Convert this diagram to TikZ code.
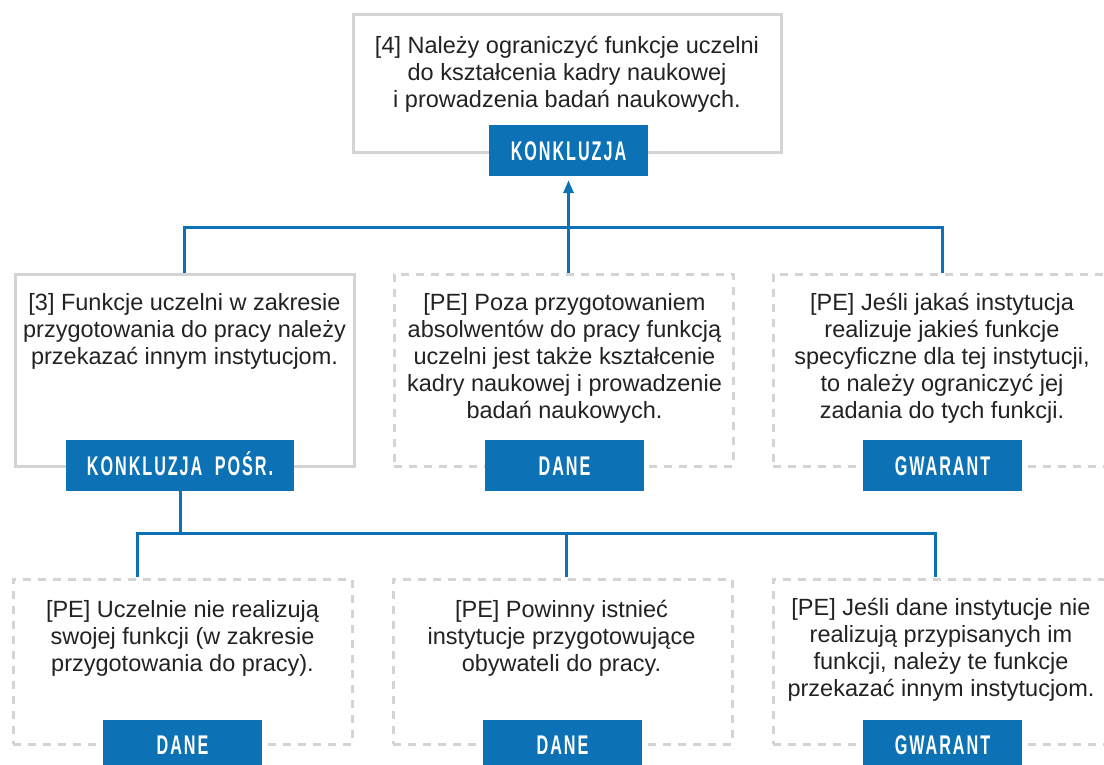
\documentclass[tikz,border=0pt]{standalone}
\usepackage{fontspec}
\usepackage{graphicx}
\setmainfont{Liberation Sans}
\newfontfamily\lblfont[LetterSpace=12]{Liberation Sans}
\usetikzlibrary{arrows.meta}
\definecolor{brandblue}{HTML}{0D71B6}
\definecolor{framegray}{HTML}{D4D4D4}
\definecolor{inktext}{HTML}{222222}
\newcommand{\tagtext}[1]{\scalebox{0.6}[1]{#1}}

\begin{document}
\begin{tikzpicture}[x=1pt,y=-1pt,
  framebox/.style={draw=framegray, line width=3pt, minimum width=339pt, minimum height=192pt, inner sep=0pt},
  dashbox/.style={framebox, dash pattern=on 8pt off 7pt},
  bodytext/.style={anchor=north, align=center, inner sep=0pt, text=inktext, font=\fontsize{23.5}{27}\selectfont},
  tag/.style={fill=brandblue, text=white, minimum width=159pt, minimum height=51pt, inner sep=0pt,
    text height=19.3pt, text depth=0pt, font=\lblfont\bfseries\fontsize{27}{31}\selectfont},
  conn/.style={draw=brandblue, line width=3pt},
]
\useasboundingbox (0,0) rectangle (1104,764);
\clip (0,0) rectangle (1104,764);

% frames
\node[framebox, minimum width=428pt, minimum height=138pt] (b4) at (567,83) {};
\node[framebox] (b3) at (184.5,370) {};
\node[dashbox] (p1) at (563.5,370) {};
\node[dashbox] (g1) at (942.5,370) {};
\node[dashbox, minimum height=165pt] (d1) at (182.5,661.5) {};
\node[dashbox, minimum height=165pt] (d2) at (562.5,661.5) {};
\node[dashbox, minimum height=165pt] (g2) at (942.5,661.5) {};

% statements
\node[bodytext] (t4) at (567,34.1) {\strut[4] Należy ograniczyć funkcje uczelni\\do kształcenia kadry naukowej\\i prowadzenia badań naukowych.};
\node[bodytext] (t3) at (184.5,291.1) {\strut[3] Funkcje uczelni w zakresie\\przygotowania do pracy należy\\przekazać innym instytucjom.};
\node[bodytext] (tp1) at (564.5,291.1) {\strut[PE] Poza przygotowaniem\\absolwentów do pracy funkcją\\uczelni jest także kształcenie\\kadry naukowej i prowadzenie\\badań naukowych.};
\node[bodytext] (tg1) at (942,291.1) {\strut[PE] Jeśli jakaś instytucja\\realizuje jakieś funkcje\\specyficzne dla tej instytucji,\\to należy ograniczyć jej\\zadania do tych funkcji.};
\node[bodytext] (td1) at (182.5,598.1) {\strut[PE] Uczelnie nie realizują\\swojej funkcji (w zakresie\\przygotowania do pracy).};
\node[bodytext] (td2) at (561.5,598.1) {\strut[PE] Powinny istnieć\\instytucje przygotowujące\\obywateli do pracy.};
\node[bodytext] (tg2) at (941,596.1) {\strut[PE] Jeśli dane instytucje nie\\realizują przypisanych im\\funkcji, należy te funkcje\\przekazać innym instytucjom.};

% bus levels and drop points
\coordinate (bus1) at (0,227);
\coordinate (bus2) at (0,533);
\coordinate (drop1) at (137,577);
\coordinate (drop2) at (566,577);
\coordinate (drop3) at (935,577);

% tags
\node[tag] (lK) at (568.5,150.5) {\tagtext{KONKLUZJA}};
\node[tag, minimum width=228pt] (lC) at (180,465.5) {\tagtext{KONKLUZJA\hspace{10pt} POŚR.}};
\node[tag] (lP1) at (564.5,465.5) {\tagtext{DANE}};
\node[tag] (lG1) at (942.5,465.5) {\tagtext{GWARANT}};
\node[tag] (lD1) at (182.5,745) {\tagtext{DANE}};
\node[tag] (lD2) at (562.5,745) {\tagtext{DANE}};
\node[tag] (lG2) at (942.5,745) {\tagtext{GWARANT}};

% connectors
\draw[conn] (b3.north) |- (g1.north |- bus1) -- (g1.north);
\draw[conn, -{Triangle[width=10pt,length=13pt]}, shorten >=4pt] (lK.south |- p1.north) -- (lK.south);
\draw[conn] (lC.south) -- (lC.south |- bus2);
\draw[conn] (drop1) |- (drop3 |- bus2) -- (drop3);
\draw[conn] (drop2) -- (drop2 |- bus2);
\end{tikzpicture}
\end{document}
